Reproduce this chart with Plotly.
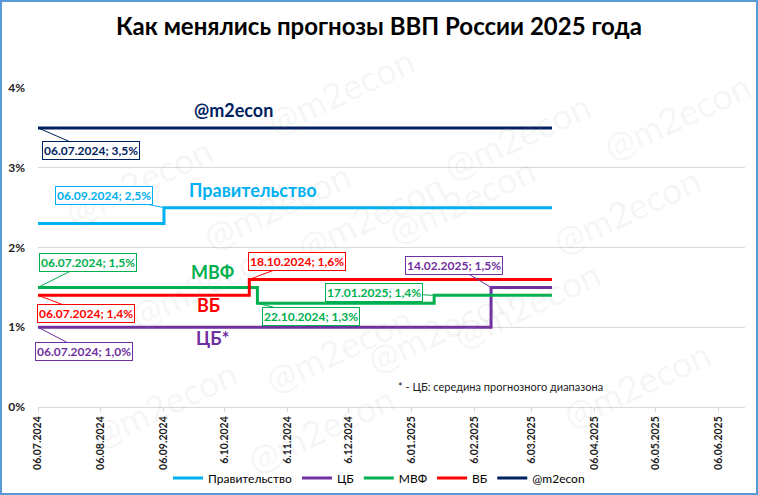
import plotly.graph_objects as go

# ---- data ----
END_DATE = "2025-03-16"
gov_dates = ["2024-07-06", "2024-09-06", END_DATE]
gov_vals = [2.3, 2.5, 2.5]
cb_dates = ["2024-07-06", "2025-02-14", END_DATE]
cb_vals = [1.0, 1.5, 1.5]
imf_dates = ["2024-07-06", "2024-10-22", "2025-01-17", END_DATE]
imf_vals = [1.5, 1.3, 1.4, 1.4]
wb_dates = ["2024-07-06", "2024-10-18", END_DATE]
wb_vals = [1.4, 1.6, 1.6]
m2_dates = ["2024-07-06", END_DATE]
m2_vals = [3.5, 3.5]

tick_dates = ["2024-07-06", "2024-08-06", "2024-09-06", "2024-10-06", "2024-11-06",
              "2024-12-06", "2025-01-06", "2025-02-06", "2025-03-06", "2025-04-06",
              "2025-05-06", "2025-06-06"]
tick_labels = ["06.07.2024", "06.08.2024", "06.09.2024", "06.10.2024", "06.11.2024",
               "06.12.2024", "06.01.2025", "06.02.2025", "06.03.2025", "06.04.2025",
               "06.05.2025", "06.06.2025"]
y_ticks = [0, 1, 2, 3, 4]
y_labels = ["0%", "1%", "2%", "3%", "4%"]

C_GOV = "#00B0F0"
C_CB = "#7030A0"
C_IMF = "#00B050"
C_WB = "#FF0000"
C_M2 = "#002060"
FONT = "Lato"

fig = go.Figure()
for name, xs, ys, col in [
    ("Правительство", gov_dates, gov_vals, C_GOV),
    ("ЦБ", cb_dates, cb_vals, C_CB),
    ("МВФ", imf_dates, imf_vals, C_IMF),
    ("ВБ", wb_dates, wb_vals, C_WB),
    ("@m2econ", m2_dates, m2_vals, C_M2),
]:
    fig.add_trace(go.Scatter(x=xs, y=ys, mode="lines", name=name,
                             line=dict(color=col, width=3, shape="hv")))

W, H = 758, 495
L, R, T, B = 38, 13, 88, 88
pw, ph = W - L - R, H - T - B

annotations = []

# watermarks
wm_px = [(55, 125), (193, 150), (340, 35), (370, 160), (600, 80), (545, 200),
         (710, 210), (120, 340), (255, 405), (440, 385), (610, 360), (720, 440),
         (80, 460), (320, 485), (760, 60)]
for (px, py) in wm_px:
    annotations.append(dict(
        x=(px - L) / pw, y=(H - B - py) / ph, xref="paper", yref="paper",
        text="@m2econ", showarrow=False, textangle=-25,
        font=dict(family=FONT, size=36, color="rgba(150,150,150,0.09)")))

# callouts
callouts = [
    (m2_dates[0], m2_vals[0], C_M2, 53, 23),
    (gov_dates[1], gov_vals[1], C_GOV, -60, -12),
    (imf_dates[0], imf_vals[0], C_IMF, 50, -25),
    (wb_dates[0], wb_vals[0], C_WB, 48, 18),
    (cb_dates[0], cb_vals[0], C_CB, 46, 24),
    (wb_dates[1], wb_vals[1], C_WB, 48, -18),
    (imf_dates[1], imf_vals[1], C_IMF, 54, 13),
    (imf_dates[2], imf_vals[2], C_IMF, -60, -3),
    (cb_dates[1], cb_vals[1], C_CB, -37, -22),
]
for d, v, col, ax, ay in callouts:
    y_, m_, dd = d.split("-")
    label = f"{dd}.{m_}.{y_}; " + f"{v:.1f}".replace(".", ",") + "%"
    annotations.append(dict(
        x=d, y=v, xref="x", yref="y", text=f"<b>{label}</b>", showarrow=True,
        arrowhead=0, arrowwidth=1, arrowcolor=col, ax=ax, ay=ay,
        bordercolor=col, borderwidth=1, borderpad=1, bgcolor="white",
        font=dict(family=FONT, size=12, color=col)))

# series labels
for txt, d, v, col in [
    ("@m2econ", "2024-10-10", 3.72, C_M2),
    ("Правительство", "2024-10-20", 2.72, C_GOV),
    ("МВФ", "2024-09-30", 1.69, C_IMF),
    ("ВБ", "2024-09-28", 1.28, C_WB),
    ("ЦБ*", "2024-09-30", 0.87, C_CB),
]:
    annotations.append(dict(x=d, y=v, xref="x", yref="y", text=f"<b>{txt}</b>",
                            showarrow=False,
                            font=dict(family=FONT, size=18, color=col)))

annotations.append(dict(x=(605 - L) / pw, y=(H - B - 395) / ph, xref="paper", yref="paper",
                        text="* - ЦБ: середина прогнозного диапазона", showarrow=False,
                        font=dict(family=FONT, size=11, color="#222222")))

fig.update_layout(
    width=W, height=H,
    margin=dict(l=L, r=R, t=T, b=B, autoexpand=False),
    paper_bgcolor="white", plot_bgcolor="white",
    title=dict(text="<b>Как менялись прогнозы ВВП России 2025 года</b>",
               x=0.5, xref="container", xanchor="center", y=1 - 27 / H, yanchor="middle",
               font=dict(family=FONT, size=24, color="black")),
    font=dict(family=FONT, color="#222222"),
    showlegend=True,
    legend=dict(orientation="h", x=(379 - L) / pw, xanchor="center",
                y=(H - B - 478) / ph, yanchor="middle",
                font=dict(family=FONT, size=12, color="black"),
                itemwidth=30, tracegroupgap=0),
    annotations=annotations,
    shapes=[dict(type="rect", xref="paper", yref="paper",
                 x0=(1 - L) / pw, x1=(W - 1 - L) / pw,
                 y0=(H - B - (H - 1)) / ph, y1=(H - B - 1) / ph,
                 line=dict(color="#5B9BD5", width=2), fillcolor="rgba(0,0,0,0)",
                 layer="below")],
)
fig.update_xaxes(type="date", range=["2024-07-06", "2025-06-19"],
                 tickvals=tick_dates, ticktext=[f"<b>{t}</b>" for t in tick_labels],
                 tickangle=-90, tickfont=dict(family=FONT, size=10.5, color="#222222"),
                 showgrid=False, showline=True, linecolor="#D9D9D9", linewidth=1,
                 ticks="outside", ticklen=4, tickcolor="#D9D9D9", zeroline=False,
                 automargin=False)
fig.update_yaxes(range=[0, 4], tickvals=y_ticks, ticktext=[f"<b>{t}</b>" for t in y_labels],
                 tickfont=dict(family=FONT, size=12, color="#222222"),
                 showgrid=True, gridcolor="#D9D9D9", gridwidth=1, zeroline=False,
                 showline=False, ticklabelstandoff=12, automargin=False)

fig.write_html("out.html", config={"displayModeBar": False},
               post_script="document.body.style.margin='0px';document.body.style.overflow='hidden';")
